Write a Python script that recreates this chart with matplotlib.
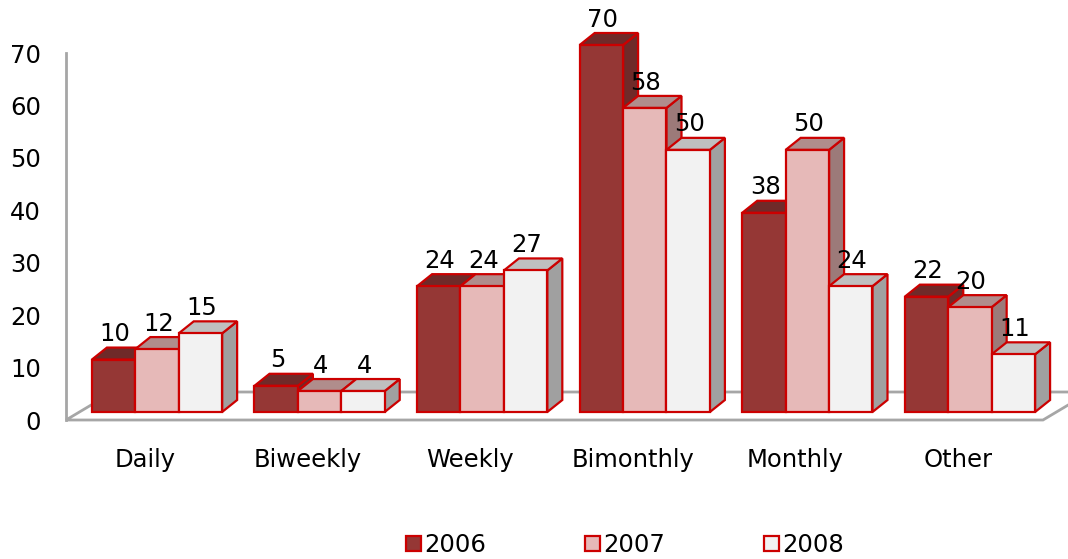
import matplotlib.pyplot as plt
import numpy as np
from matplotlib.patches import Polygon, Patch
from matplotlib.transforms import ScaledTranslation

categories = ['Daily', 'Biweekly', 'Weekly', 'Bimonthly', 'Monthly', 'Other']
years = ['2006', '2007', '2008']
v2006 = [10, 5, 24, 70, 38, 22]
v2007 = [12, 4, 24, 58, 50, 20]
v2008 = [15, 4, 27, 50, 24, 11]
yticks = [0, 10, 20, 30, 40, 50, 60, 70]

front_cols = ['#953735', '#e6b9b8', '#f2f2f2']
top_cols = ['#6f2a29', '#b08d8c', '#bfbfbf']
side_cols = ['#6f2a29', '#9c7a79', '#a0a0a0']
edge = '#cc0000'
grey = '#a6a6a6'
fs = 17.5

fig = plt.figure(figsize=(10.68, 5.59), dpi=100)
W, H = 1068, 559
ax = fig.add_axes([66 / W, (H - 420) / H, (1043 - 66) / W, (420 - 53) / H])
ax.set_xlim(-0.486, 5.523)
ax.set_ylim(0, 70)
ax.patch.set_alpha(0)

# pixels per data unit
p0 = ax.transData.transform((0, 0))
p1 = ax.transData.transform((1, 1))
sx, sy = p1 - p0

def shift(dx, dy):
    return ax.transData + ScaledTranslation(dx / 100, dy / 100, fig.dpi_scale_trans)

# floor
fx0, fx1 = -0.486, 5.523
fdx, fdy = 47 / sx, 28 / sy
floor = Polygon([(fx0, 0), (fx1, 0), (fx1 + fdx, fdy), (fx0 + fdx, fdy)],
                closed=True, facecolor='white', edgecolor=grey, lw=2,
                clip_on=False, zorder=1)
ax.add_patch(floor)

# bars (front at 12px right, 8px up of the floor front edge)
bw = 0.267
ddx, ddy = 15 / sx, 12 / sy
tr = shift(12, 8)
x = np.arange(len(categories))
series = [v2006, v2007, v2008]
z = 3
for i in range(len(categories)):
    for k, vals in enumerate(series):
        h = vals[i]
        left = x[i] + (k - 1.5) * bw
        right = left + bw
        front = Polygon([(left, 0), (right, 0), (right, h), (left, h)],
                        facecolor=front_cols[k], edgecolor=edge, lw=1.6,
                        transform=tr, clip_on=False, zorder=z)
        top = Polygon([(left, h), (right, h), (right + ddx, h + ddy), (left + ddx, h + ddy)],
                      facecolor=top_cols[k], edgecolor=edge, lw=1.6,
                      transform=tr, clip_on=False, zorder=z)
        side = Polygon([(right, 0), (right + ddx, ddy), (right + ddx, h + ddy), (right, h)],
                       facecolor=side_cols[k], edgecolor=edge, lw=1.6,
                       transform=tr, clip_on=False, zorder=z)
        for p in (side, top, front):
            ax.add_patch(p)
        z += 1
        ax.annotate(str(h), xy=(left + bw / 2, h), xytext=(9.5, 19),
                    textcoords='offset points', ha='center', va='baseline',
                    fontsize=fs, color='black', zorder=50, annotation_clip=False)

for s in ['top', 'right', 'bottom']:
    ax.spines[s].set_visible(False)
ax.spines['left'].set_color(grey)
ax.spines['left'].set_linewidth(2)

ax.set_yticks(yticks)
ax.set_xticks(x)
ax.set_xticklabels(categories)
ax.tick_params(axis='y', length=0, pad=18, labelsize=fs)
ax.tick_params(axis='x', length=0, pad=20, labelsize=fs)

handles = [Patch(facecolor=front_cols[k], edgecolor=edge, lw=1.6) for k in range(3)]
fig.legend(handles, years, loc='center', bbox_to_anchor=(625 / W, 14 / H), ncol=3,
           frameon=False, fontsize=fs, handlelength=0.6, handleheight=0.6,
           handletextpad=0.12, columnspacing=4.1, borderpad=0)

plt.savefig('out.png', dpi=100)
